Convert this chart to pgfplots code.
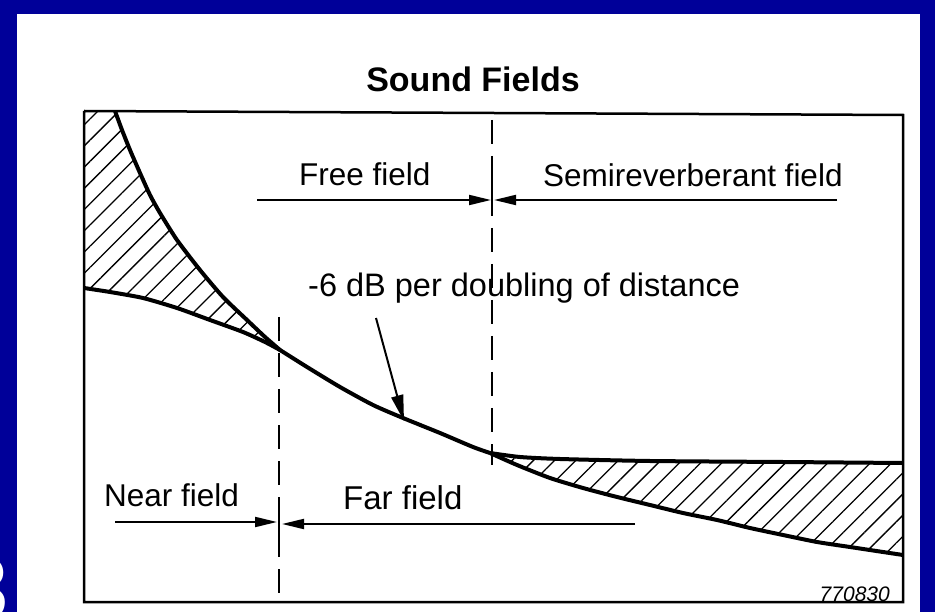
\documentclass[border=0pt]{standalone}
\usepackage{fontspec}
\setmainfont{Liberation Sans}
\usepackage{pgfplots}
\pgfplotsset{compat=1.18}
\usetikzlibrary{arrows.meta,patterns.meta}
\definecolor{bgblue}{RGB}{0,0,153}
\begin{document}
\begin{tikzpicture}
\clip (0,0) rectangle (935pt,612pt);
\fill[bgblue] (0,0) rectangle (935pt,612pt);
\node[white,anchor=base east,inner sep=0pt,font=\bfseries\fontsize{90pt}{90pt}\selectfont] at (9pt,-8pt) {3};
\fill[white] (17pt,0) rectangle (920pt,598pt);
\begin{axis}[
  at={(0,0)}, anchor=south west,
  width=935pt, height=612pt, scale only axis,
  xmin=0, xmax=935, ymin=0, ymax=612, y dir=reverse,
  hide axis, clip=false,
]
% hatched regions
\addplot[draw=none, pattern={Lines[angle=45,distance=15pt,line width=1.3pt]}, pattern color=black]
  coordinates {(84,111) (115,111) (122,130) (130,150) (140,173) (150,195) (160,213) (177,240) (200,270) (223,297) (247,320) (265,337) (280,350)
   (265,342) (243,332) (210,320) (177,308) (143,298) (110,292) (84,288)};
\addplot[draw=none, pattern={Lines[angle=45,distance=15pt,line width=1.3pt]}, pattern color=black]
  coordinates {(490,453) (520,457) (560,459) (650,461) (783,462) (903,463)
   (903,555) (883,552) (850,547) (817,542) (783,535) (750,528) (717,520) (683,513) (650,505) (617,497) (583,488) (550,478) (517,465)};
% frame
\addplot[black, line width=2.5pt] coordinates {(84,111) (903,115) (903,602) (84,602) (84,111)};
% curves
\addplot[black, line width=4pt, smooth, tension=0.4] coordinates {(115,111) (122,130) (130,150) (140,173) (150,195) (160,213) (177,240) (200,270) (223,297) (247,320) (265,337) (280,350)};
\addplot[black, line width=4pt, smooth, tension=0.4] coordinates {(84,288) (110,292) (143,298) (177,308) (210,320) (243,332) (265,342) (280,350)};
\addplot[black, line width=4pt, smooth, tension=0.4] coordinates {(280,350) (307,367) (340,387) (373,405) (403,418) (440,433) (473,447) (490,453)};
\addplot[black, line width=4pt, smooth, tension=0.4] coordinates {(490,453) (520,457) (560,459) (650,461) (783,462) (903,463)};
\addplot[black, line width=4pt, smooth, tension=0.4] coordinates {(490,453) (517,465) (550,478) (583,488) (617,497) (650,505) (683,513) (717,520) (750,528) (783,535) (817,542) (850,547) (883,552) (903,555)};
% dashed boundaries
\addplot[black, line width=2pt, dash pattern=on 24pt off 12pt] coordinates {(279,317) (279,602)};
\addplot[black, line width=2pt, dash pattern=on 24pt off 12pt] coordinates {(492,120) (492,465)};
\addplot[black, line width=2pt] coordinates {(279,505) (279,540)};
\addplot[black, line width=2pt] coordinates {(492,180) (492,214)};
% range arrows
\addplot[black, line width=2pt, -{Triangle[length=22pt,width=10pt]}] coordinates {(257,200) (491,200)};
\addplot[black, line width=2pt, -{Triangle[length=22pt,width=10pt]}] coordinates {(837,200) (494,200)};
\addplot[black, line width=2pt, -{Triangle[length=22pt,width=10pt]}] coordinates {(115,522) (277,522)};
\addplot[black, line width=2pt, -{Triangle[length=22pt,width=10pt]}] coordinates {(635,524) (282,524)};
% pointer arrow
\addplot[black, line width=2pt, -{Triangle[length=26pt,width=12pt]}] coordinates {(376,318) (404,421)};
% texts
\node[anchor=base,inner sep=0pt,font=\bfseries\fontsize{34pt}{40pt}\selectfont] at (473,92) {Sound Fields};
\node[anchor=base west,inner sep=0pt,font=\fontsize{31.5pt}{36pt}\selectfont] at (299,186) {Free field};
\node[anchor=base west,inner sep=0pt,font=\fontsize{31.5pt}{36pt}\selectfont] at (543,187) {Semireverberant field};
\node[anchor=base west,inner sep=0pt,font=\fontsize{32.5pt}{36pt}\selectfont] at (308,297) {-6 dB per doubling of distance};
\node[anchor=base west,inner sep=0pt,font=\fontsize{31.5pt}{36pt}\selectfont] at (104,506) {Near field};
\node[anchor=base west,inner sep=0pt,font=\fontsize{33pt}{36pt}\selectfont] at (343,509) {Far field};
\node[anchor=base east,inner sep=0pt,font=\itshape\fontsize{21pt}{24pt}\selectfont] at (890,601) {770830};
\end{axis}
\end{tikzpicture}
\end{document}
